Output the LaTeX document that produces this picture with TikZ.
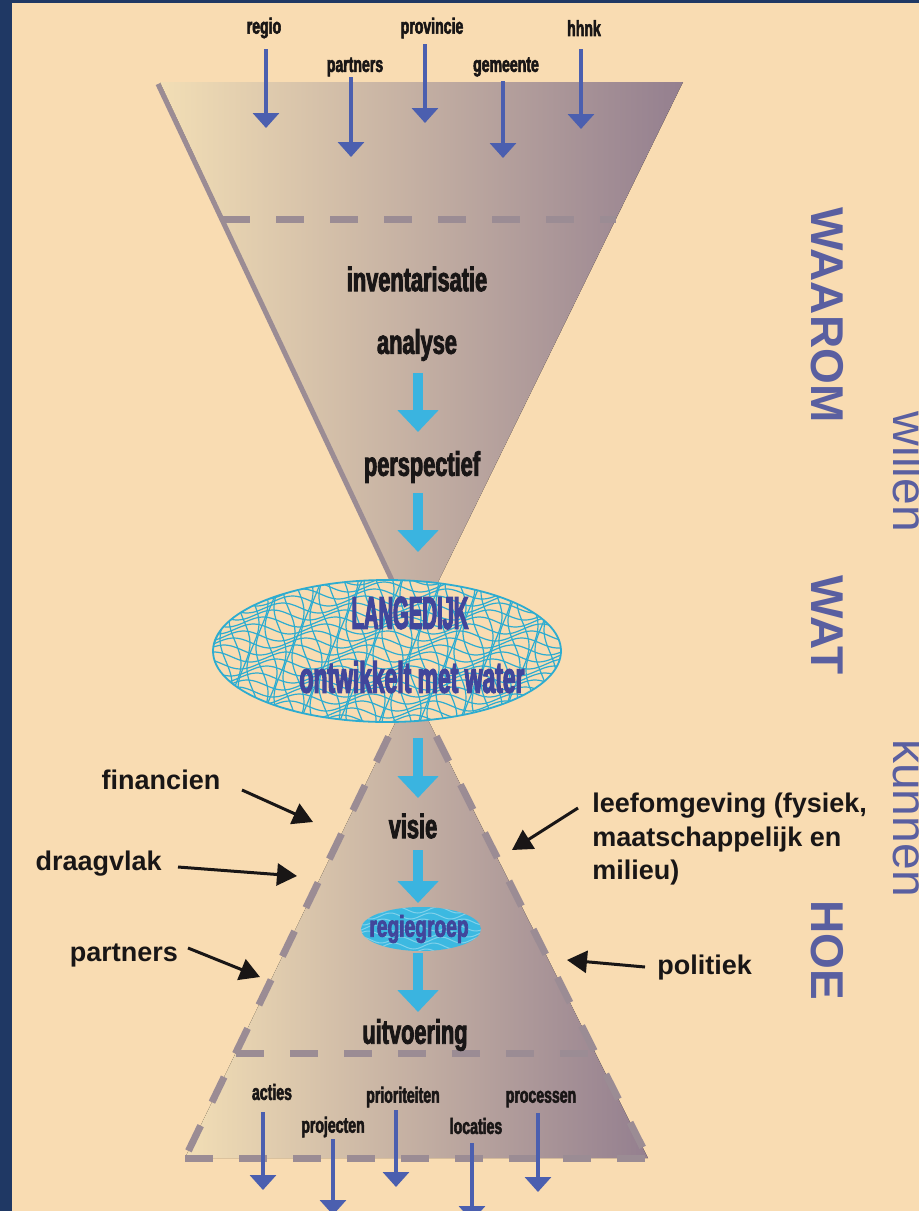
\documentclass[tikz,border=0pt]{standalone}
\usepackage{fontspec}
\setmainfont{Liberation Sans}
\newfontfamily\condf{Liberation Sans}[FakeStretch=0.64,FakeBold=2.5]
\newfontfamily\midf{Liberation Sans}[FakeStretch=0.52,FakeBold=2.5]
\newfontfamily\narrowf{Liberation Sans}[FakeStretch=0.44,FakeBold=2.5]
\usetikzlibrary{arrows.meta,shapes.geometric}
\definecolor{bg}{RGB}{249,220,178}
\definecolor{navy}{RGB}{31,56,100}
\definecolor{mauve}{RGB}{155,140,148}
\definecolor{fleft}{RGB}{242,222,181}
\definecolor{fmid}{RGB}{208,196,168}
\definecolor{fright}{RGB}{148,127,143}
\definecolor{barrow}{RGB}{75,95,175}
\definecolor{carrow}{RGB}{58,180,224}
\definecolor{meshc}{RGB}{45,172,208}
\definecolor{dblue}{RGB}{65,70,155}
\definecolor{sideblue}{RGB}{90,95,160}
\definecolor{ink}{RGB}{25,22,22}
\definecolor{regc}{RGB}{60,185,225}
\begin{document}
\begin{tikzpicture}[x=0.5pt,y=-0.5pt,
 inarrow/.style={barrow, line width=1.7pt, -{Triangle[width=13pt,length=7.5pt]}},
 flow/.style={carrow, line width=5pt, -{Triangle[width=20pt,length=11pt]}},
 pointer/.style={ink, line width=1.5pt, -{Triangle[width=11pt,length=10pt]}},
 smalllbl/.style={font=\condf\bfseries\fontsize{11}{12}\selectfont, text=ink, inner sep=0},
 biglbl/.style={font=\condf\bfseries\fontsize{17}{18}\selectfont, text=ink, inner sep=0},
 sidelbl/.style={font=\bfseries\fontsize{13.5}{16.75}\selectfont, text=ink, inner sep=0, align=left},
 vertbold/.style={font=\bfseries\fontsize{23}{26}\selectfont, text=sideblue, inner sep=0, rotate=-90, anchor=base},
 vertreg/.style={font=\fontsize{24}{26}\selectfont, text=sideblue, inner sep=0, rotate=-90, anchor=base},
 edgedash/.style={mauve, line width=3.5pt, dash pattern=on 14pt off 13pt},
 funnelfill/.style={left color=fleft, middle color=fmid, right color=fright}
]
\useasboundingbox (0,0) rectangle (919,1211);
% background
\fill[bg] (0,0) rectangle (919,1211);
\fill[navy] (0,0) rectangle (12,1211);
\fill[navy] (0,0) rectangle (919,3);

% upper funnel
\fill[funnelfill] (160,82) -- (683,82) -- (415,629) -- cycle;
\draw[mauve, line width=2.5pt] (158,84) -- (415,629);
\draw[edgedash] (222,219) -- (616,219);

% lower funnel
\fill[funnelfill] (412,688) -- (648,1158) -- (185,1158) -- cycle;
\draw[edgedash] (412,688) -- (185,1158);
\draw[edgedash] (412,688) -- (648,1158);
\draw[edgedash] (185,1158) -- (648,1158);
\draw[edgedash] (236,1053) -- (595,1053);

% central ellipse with water mesh
\begin{scope}
 \clip (387,651) ellipse [x radius=174, y radius=71];
 \fill[bg] (200,570) rectangle (570,730);
 \foreach \hh in {580,587,...,724}
   \draw[meshc, line width=0.6pt] plot[domain=205:570, samples=70, smooth] (\x,{\hh+5*sin(5*\x+7*\hh)});
 \foreach \vv in {208,217,...,568}
   \draw[meshc, line width=0.6pt] plot[domain=575:730, samples=40, smooth] ({\vv+6*sin(4*\x+9*\vv)},\x);
\end{scope}
\node[ellipse, draw=meshc, line width=0.9pt, minimum width=174pt, minimum height=71pt] (core) at (387,651) {};
\node[font=\narrowf\bfseries\fontsize{23}{24}\selectfont, text=dblue, inner sep=0] (langedijk) at (410,613) {LANGEDIJK};
\node[font=\midf\bfseries\fontsize{22}{24}\selectfont, text=dblue, inner sep=0] (water) at (412,677) {ontwikkelt met water};

% regiegroep ellipse
\begin{scope}
 \clip (421,929) ellipse [x radius=60, y radius=22];
 \fill[regc] (355,900) rectangle (490,960);
 \foreach \hh in {910,916,...,952}
   \draw[white, opacity=0.35, line width=0.5pt] plot[domain=355:490, samples=40, smooth] (\x,{\hh+3*sin(9*\x+11*\hh)});
\end{scope}
\node[ellipse, minimum width=60pt, minimum height=22pt, inner sep=0] (regieell) at (421,929) {};
\node[font=\condf\bfseries\fontsize{15}{16}\selectfont, text=dblue, inner sep=0] (regie) at (419,929) {regiegroep};

% central texts
\node[biglbl] (inv) at (417,279) {inventarisatie};
\node[biglbl] (ana) at (417,345) {analyse};
\node[biglbl] (persp) at (422,467) {perspectief};
\node[biglbl] (visie) at (413,826) {visie};
\node[biglbl] (uitv) at (415,1035) {uitvoering};

% cyan flow arrows
\coordinate (f1s) at (418,373); \coordinate (f1e) at (418,432);
\coordinate (f2s) at (418,493); \coordinate (f2e) at (418,552);
\coordinate (f3s) at (418,738); \coordinate (f3e) at (418,798);
\coordinate (f4s) at (418,850); \coordinate (f4e) at (418,903);
\coordinate (f5s) at (418,953); \coordinate (f5e) at (418,1012);
\draw[flow] (f1s) -- (f1e);
\draw[flow] (f2s) -- (f2e);
\draw[flow] (f3s) -- (f3e);
\draw[flow] (f4s) -- (f4e);
\draw[flow] (f5s) -- (f5e);

% top inputs
\node[smalllbl] (regio) at (264,28) {regio};
\node[smalllbl] (partnersT) at (355,67) {partners};
\node[smalllbl] (prov) at (432,28) {provincie};
\node[smalllbl] (gem) at (506,67) {gemeente};
\node[smalllbl] (hhnk) at (584,28) {hhnk};
\coordinate (t1s) at (266,49);  \coordinate (t1e) at (266,128);
\coordinate (t2s) at (351,77);  \coordinate (t2e) at (351,157);
\coordinate (t3s) at (425,44);  \coordinate (t3e) at (425,123);
\coordinate (t4s) at (503,81);  \coordinate (t4e) at (503,158);
\coordinate (t5s) at (581,49);  \coordinate (t5e) at (581,129);
\draw[inarrow] (t1s) -- (t1e);
\draw[inarrow] (t2s) -- (t2e);
\draw[inarrow] (t3s) -- (t3e);
\draw[inarrow] (t4s) -- (t4e);
\draw[inarrow] (t5s) -- (t5e);

% bottom outputs
\node[smalllbl] (acties) at (272,1092) {acties};
\node[smalllbl] (proj) at (333,1127) {projecten};
\node[smalllbl] (prio) at (403,1097) {prioriteiten};
\node[smalllbl] (loc) at (476,1126) {locaties};
\node[smalllbl] (proc) at (541,1099) {processen};
\coordinate (b1s) at (263,1112); \coordinate (b1e) at (263,1190);
\coordinate (b2s) at (333,1139); \coordinate (b2e) at (333,1215);
\coordinate (b3s) at (396,1110); \coordinate (b3e) at (396,1187);
\coordinate (b4s) at (472,1143); \coordinate (b4e) at (472,1221);
\coordinate (b5s) at (538,1113); \coordinate (b5e) at (538,1192);
\draw[inarrow] (b1s) -- (b1e);
\draw[inarrow] (b2s) -- (b2e);
\draw[inarrow] (b3s) -- (b3e);
\draw[inarrow] (b4s) -- (b4e);
\draw[inarrow] (b5s) -- (b5e);

% side influences
\node[sidelbl] (fin) at (161,780) {financien};
\node[sidelbl, anchor=east] (draag) at (162,864) {draagvlak};
\node[sidelbl] (partnersL) at (124,955) {partners};
\node[sidelbl, anchor=north west] (leef) at (592,793) {leefomgeving (fysiek,\\maatschappelijk en\\milieu)};
\node[sidelbl, anchor=west] (pol) at (657,968) {politiek};
\coordinate (p1s) at (242,790); \coordinate (p1e) at (313,822);
\coordinate (p2s) at (178,867); \coordinate (p2e) at (297,876);
\coordinate (p3s) at (188,948); \coordinate (p3e) at (260,977);
\coordinate (p4s) at (578,808); \coordinate (p4e) at (512,850);
\coordinate (p5s) at (645,967); \coordinate (p5e) at (567,960);
\draw[pointer] (p1s) -- (p1e);
\draw[pointer] (p2s) -- (p2e);
\draw[pointer] (p3s) -- (p3e);
\draw[pointer] (p4s) -- (p4e);
\draw[pointer] (p5s) -- (p5e);

% vertical labels
\node[vertbold] (waarom) at (811,315) {WAAROM};
\node[vertbold] (wat) at (811,625) {WAT};
\node[vertbold] (hoe) at (811,950) {HOE};
\node[vertreg] (willen) at (893,472) {willen};
\node[vertreg] (kunnen) at (893,818) {kunnen};
\end{tikzpicture}
\end{document}
